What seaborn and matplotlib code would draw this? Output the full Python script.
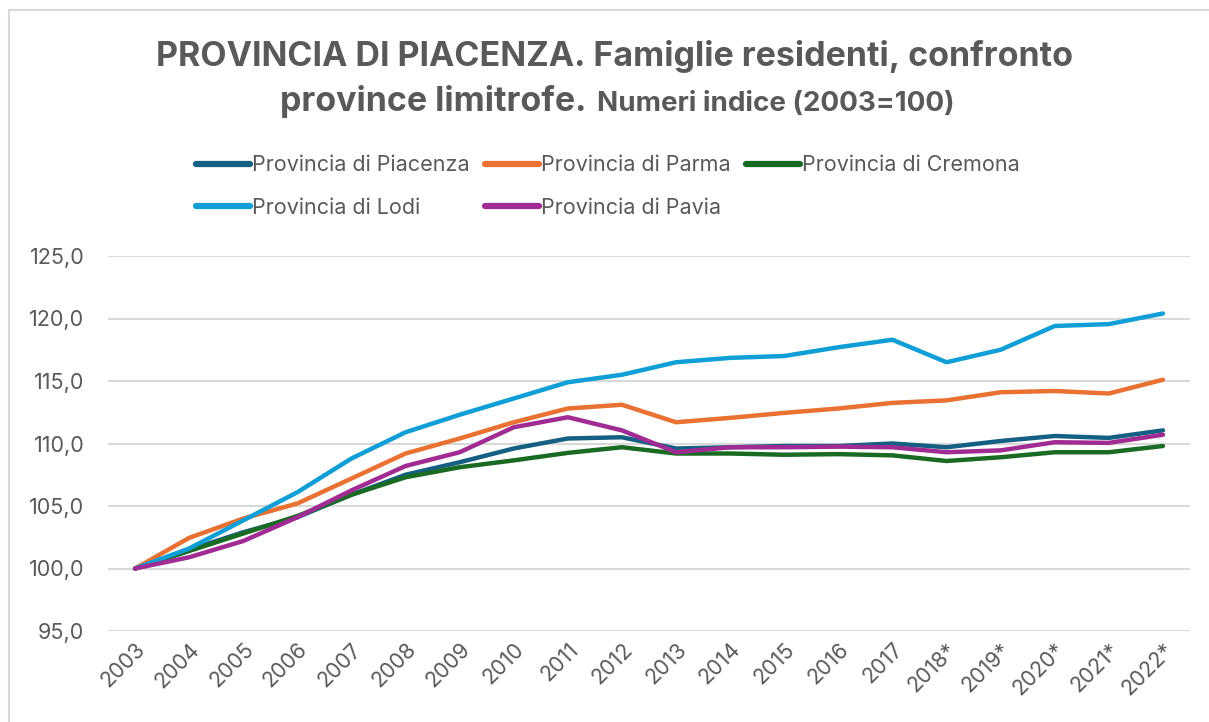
import pandas as pd
import matplotlib.pyplot as plt
import seaborn as sns
from matplotlib.lines import Line2D

# data (index 2003=100)
anni = ["2003", "2004", "2005", "2006", "2007", "2008", "2009", "2010", "2011", "2012",
        "2013", "2014", "2015", "2016", "2017", "2018*", "2019*", "2020*", "2021*", "2022*"]
piacenza = [100.0, 101.5, 102.9, 104.1, 105.9, 107.5, 108.5, 109.6, 110.4, 110.5,
            109.6, 109.7, 109.8, 109.8, 110.0, 109.7, 110.2, 110.6, 110.45, 111.05]
parma = [100.0, 102.45, 104.0, 105.2, 107.2, 109.2, 110.4, 111.7, 112.8, 113.1,
         111.7, 112.05, 112.45, 112.8, 113.25, 113.45, 114.1, 114.2, 114.0, 115.1]
cremona = [100.0, 101.4, 102.8, 104.2, 105.9, 107.3, 108.1, 108.65, 109.25, 109.7,
           109.2, 109.2, 109.1, 109.15, 109.05, 108.6, 108.9, 109.3, 109.3, 109.8]
lodi = [100.0, 101.6, 103.85, 106.1, 108.8, 110.9, 112.3, 113.6, 114.9, 115.5,
        116.5, 116.85, 117.0, 117.7, 118.3, 116.5, 117.5, 119.4, 119.55, 120.4]
pavia = [100.0, 100.9, 102.2, 104.1, 106.25, 108.2, 109.3, 111.3, 112.1, 111.05,
         109.3, 109.7, 109.7, 109.75, 109.7, 109.3, 109.45, 110.1, 110.05, 110.7]

province = ["Provincia di Piacenza", "Provincia di Parma", "Provincia di Cremona",
            "Provincia di Lodi", "Provincia di Pavia"]
colori = ["#156082", "#E97132", "#196B24", "#0F9ED5", "#A02B93"]
y_ticks = [95, 100, 105, 110, 115, 120, 125]

wide = pd.DataFrame({"anno": anni, province[0]: piacenza, province[1]: parma,
                     province[2]: cremona, province[3]: lodi, province[4]: pavia})
df = wide.melt(id_vars="anno", var_name="provincia", value_name="indice")

grigio = "#595959"
sns.set_style("white")
plt.rcParams["font.family"] = ["Inter", "DejaVu Sans"]

fig = plt.figure(figsize=(12.09, 7.22), dpi=100)
ax = fig.add_axes([108 / 1209, 1 - 631 / 722, 1082 / 1209, 375 / 722])

sns.lineplot(data=df, x="anno", y="indice", hue="provincia", hue_order=province,
             palette=dict(zip(province, colori)), linewidth=3.2, sort=False, ax=ax,
             solid_capstyle="round", solid_joinstyle="round")

ax.set_xlim(-0.5, len(anni) - 0.5)
ax.set_ylim(95, 125)
ax.set_yticks(y_ticks)
ax.set_yticklabels([f"{v:.1f}".replace(".", ",") for v in y_ticks])
ax.set_xticks(range(len(anni)))
ax.set_xticklabels(anni, rotation=45, ha="right", rotation_mode="anchor")
ax.tick_params(axis="both", colors=grigio, labelsize=15.5, length=0)
ax.tick_params(axis="y", pad=17)
ax.tick_params(axis="x", pad=6)
ax.grid(axis="y", color="#D9D9D9", linewidth=1.5)
ax.set_axisbelow(True)
ax.set_xlabel("")
ax.set_ylabel("")
sns.despine(ax=ax, left=True, bottom=True)

# legend, row-major like the original
h, l = ax.get_legend_handles_labels()
ax.get_legend().remove()
order = [0, 3, 1, 4, 2]
leg = fig.legend([h[i] for i in order], [l[i] for i in order], ncol=3, frameon=False,
                 loc="upper left", bbox_to_anchor=(177 / 1209, 1 - 136 / 722),
                 fontsize=15.5, handlelength=2.5, handletextpad=0.1, columnspacing=0.7,
                 labelspacing=1.05, labelcolor=grigio)
for line in leg.get_lines():
    line.set_linewidth(4.5)
    line.set_solid_capstyle("round")

# title
fig.text(614 / 1209, 1 - 66 / 722, "PROVINCIA DI PIACENZA. Famiglie residenti, confronto",
         ha="center", va="baseline", fontsize=24.5, fontweight="bold", color=grigio)
fig.text(586 / 1209, 1 - 111 / 722, "province limitrofe.", ha="right", va="baseline",
         fontsize=24.5, fontweight="bold", color=grigio)
fig.text(597 / 1209, 1 - 111 / 722, "Numeri indice (2003=100)", ha="left", va="baseline",
         fontsize=20, fontweight="bold", color=grigio)

# chart border (left and top edges visible in the crop)
bordo = dict(color="#D9D9D9", linewidth=1.5, transform=fig.transFigure)
fig.lines.append(Line2D([9 / 1209, 9 / 1209], [0, 1 - 10 / 722], **bordo))
fig.lines.append(Line2D([9 / 1209, 1], [1 - 10 / 722, 1 - 10 / 722], **bordo))

fig.savefig("out.png", dpi=100)
